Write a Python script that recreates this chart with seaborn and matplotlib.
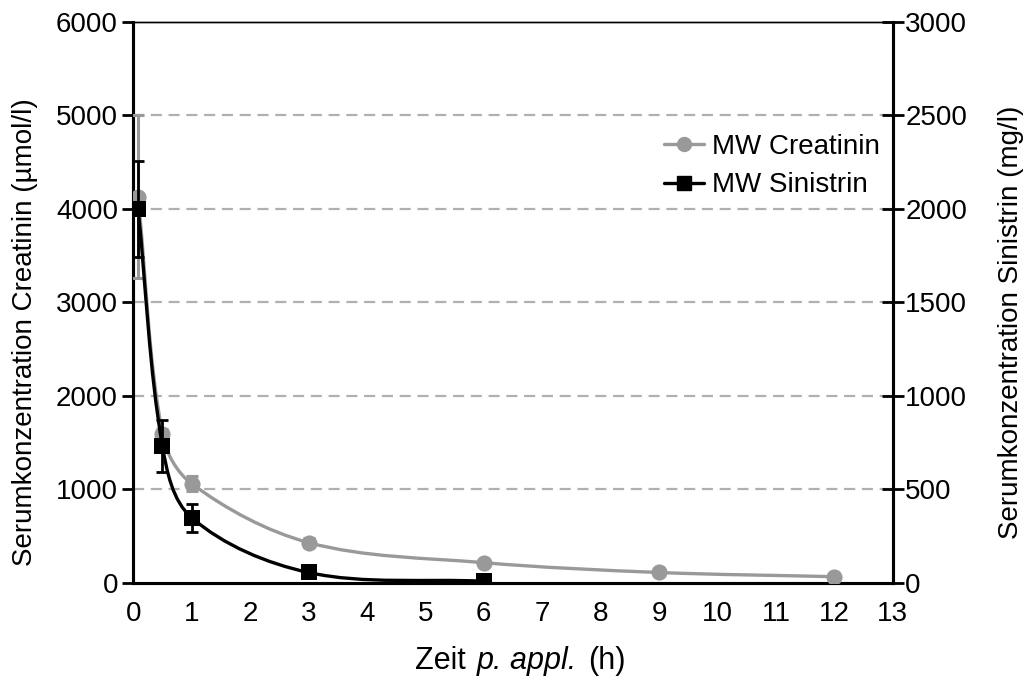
import numpy as np
import matplotlib
matplotlib.use("Agg")
import matplotlib.pyplot as plt
from matplotlib.path import Path
from matplotlib.patches import PathPatch
from matplotlib.lines import Line2D
from matplotlib.offsetbox import TextArea, HPacker, AnchoredOffsetbox
import seaborn as sns

# Serum concentrations after application (mean values with SD)
time_crea = [0.083, 0.5, 1, 3, 6, 9, 12]
crea_mean = [4130, 1590, 1060, 430, 215, 110, 65]
crea_sd = [870, 60, 80, 50, 20, 10, 8]

time_sini = [0.083, 0.5, 1, 3, 6]
sini_mean = [2000, 730, 348, 55, 8]
sini_sd = [255, 140, 75, 8, 3]

x_ticks = list(range(0, 14))
left_ticks = [0, 1000, 2000, 3000, 4000, 5000, 6000]
right_ticks = [0, 500, 1000, 1500, 2000, 2500, 3000]

GRAY = "#999999"
BLACK = "#000000"

sns.set_style("white")
plt.rcParams["font.family"] = ["Liberation Sans", "DejaVu Sans"]
plt.rcParams["text.color"] = "black"
plt.rcParams["axes.labelcolor"] = "black"

FS = 20
FS_X = 22

fig = plt.figure(figsize=(10.25, 6.84), dpi=100)
ax = fig.add_axes([0.13, 0.148, 0.741, 0.82])
ax2 = ax.twinx()


def smooth_path(ax_, xs, ys, color, lw, zorder, tension=0.33):
    """Draw a smoothed connecting line (Bezier segments through the points)."""
    pts = np.column_stack([xs, ys]).astype(float)
    disp = ax_.transData.transform(pts)
    n = len(disp)

    def unit(v):
        nv = np.hypot(*v)
        return v / nv if nv > 0 else v

    tangents = []
    for i in range(n):
        a = disp[i - 1] if i > 0 else disp[i]
        b = disp[i + 1] if i < n - 1 else disp[i]
        tangents.append(unit(b - a))

    verts = [disp[0]]
    codes = [Path.MOVETO]
    for i in range(n - 1):
        p1, p2 = disp[i], disp[i + 1]
        seg = np.hypot(*(p2 - p1))
        c1 = p1 + tangents[i] * seg * tension
        c2 = p2 - tangents[i + 1] * seg * tension
        verts += [c1, c2, p2]
        codes += [Path.CURVE4] * 3
    path = Path(verts, codes)
    patch = PathPatch(path, facecolor="none", edgecolor=color, lw=lw,
                      transform=None, zorder=zorder, capstyle="round")
    patch.set_clip_on(False)
    ax_.add_artist(patch)


ax.set_xlim(0, 13)
ax.set_ylim(0, 6000)
ax2.set_ylim(0, 3000)
ax.set_zorder(2)
ax.patch.set_visible(False)
ax2.set_zorder(1)

# dashed horizontal grid
for v in left_ticks[1:-1]:
    ax2.axhline(v / 2, color="#b0b0b0", lw=1.6, ls=(0, (5, 3)), zorder=0)

fig.canvas.draw()

# Creatinin (left axis)
smooth_path(ax, time_crea, crea_mean, GRAY, 2.4, 3)
ax.errorbar(time_crea, crea_mean, yerr=crea_sd, fmt="none", ecolor=GRAY,
            elinewidth=2.2, capsize=4, capthick=2.2, zorder=3)
sns.scatterplot(x=time_crea, y=crea_mean, ax=ax, marker="o", s=135,
                color=GRAY, edgecolor=GRAY, linewidth=0, zorder=4)

# Sinistrin (right axis scale, drawn with factor 2 on the left axes)
sini_scaled = [v * 2 for v in sini_mean]
smooth_path(ax, time_sini, sini_scaled, BLACK, 2.4, 5)
ax.errorbar(time_sini, sini_scaled, yerr=[v * 2 for v in sini_sd],
            fmt="none", ecolor=BLACK, elinewidth=2.0, capsize=4,
            capthick=2.0, zorder=5)
sns.scatterplot(x=time_sini, y=sini_scaled, ax=ax, marker="s",
                s=135, color=BLACK, edgecolor=BLACK, linewidth=0, zorder=6)

# axes styling
ax.set_xticks(x_ticks)
ax.set_yticks(left_ticks)
ax2.set_yticks(right_ticks)
ax.tick_params(axis="x", direction="out", length=7, width=2, labelsize=FS,
               pad=6, colors="black")
ax.tick_params(axis="y", direction="out", length=8, width=2, labelsize=FS,
               pad=3, colors="black")
ax2.tick_params(axis="y", direction="inout", length=16, width=2,
                labelsize=FS, pad=1, colors="black")
for a in (ax, ax2):
    for s in a.spines.values():
        s.set_color("black")
    a.spines["left"].set_linewidth(2.2)
    a.spines["right"].set_linewidth(2.2)
    a.spines["bottom"].set_linewidth(2.2)
    a.spines["top"].set_linewidth(1.0)

# x label with italic "p. appl."
xlabel = HPacker(children=[
    TextArea("Zeit", textprops=dict(fontsize=FS_X, color="black")),
    TextArea("p. appl.", textprops=dict(fontsize=FS_X, color="black",
                                        style="italic")),
    TextArea("(h)", textprops=dict(fontsize=FS_X, color="black")),
], align="baseline", pad=0, sep=8)
anchored = AnchoredOffsetbox(loc="center", child=xlabel, pad=0, frameon=False,
                             bbox_to_anchor=(0.51, -0.14),
                             bbox_transform=ax.transAxes, borderpad=0)
ax.add_artist(anchored)

ax.set_ylabel("Serumkonzentration Creatinin (µmol/l)", fontsize=FS)
ax.yaxis.set_label_coords(-0.126, 0.446)
ax2.set_ylabel("Serumkonzentration Sinistrin (mg/l)", fontsize=FS,
               rotation=90)
ax2.yaxis.set_label_coords(1.138, 0.465)

# legend
handles = [
    Line2D([], [], color=GRAY, lw=2.4, marker="o", markersize=10),
    Line2D([], [], color=BLACK, lw=2.4, marker="s", markersize=10),
]
ax.legend(handles, ["MW Creatinin", "MW Sinistrin"], loc="upper right",
          bbox_to_anchor=(0.998, 0.82), frameon=False, fontsize=FS,
          handlelength=1.45, handletextpad=0.3, labelspacing=0.45,
          borderaxespad=0.0)

fig.savefig("out.png", dpi=100)
